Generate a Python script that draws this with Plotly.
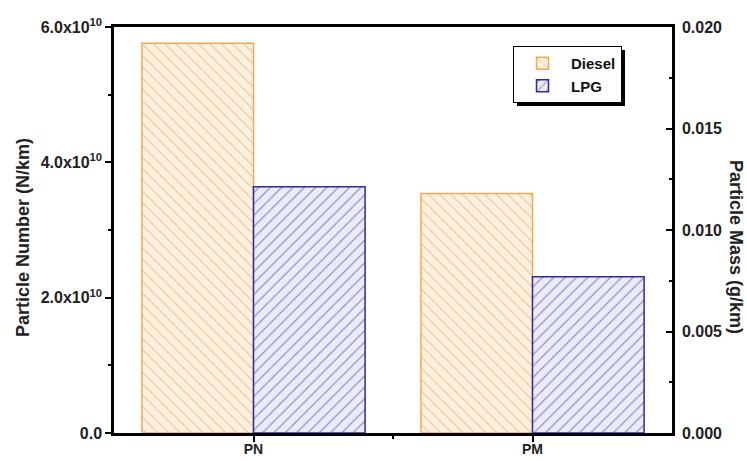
import plotly.graph_objects as go

# Emission data per fuel: particle number (left axis) and particle mass (right axis)
categories = ["PN", "PM"]
category_pos = [1, 2]
diesel_pn = 5.76e10   # N/km
lpg_pn = 3.64e10      # N/km
diesel_pm = 0.0118    # g/km
lpg_pm = 0.0077       # g/km

pn_tickvals = [0, 2e10, 4e10, 6e10]
pn_ticktext = ["0.0", "2.0x10<sup>10</sup>", "4.0x10<sup>10</sup>", "6.0x10<sup>10</sup>"]
pm_tickvals = [0, 0.005, 0.010, 0.015, 0.020]
pm_ticktext = ["0.000", "0.005", "0.010", "0.015", "0.020"]

FONT = "Liberation Sans"
diesel_style = dict(
    color="#fdf1de",
    line=dict(color="#f0aa55", width=1.5),
    pattern=dict(shape="\\", fgcolor="#c9955a", bgcolor="#fdf1de", size=8, solidity=0.14),
)
lpg_style = dict(
    color="#ebebf9",
    line=dict(color="#2c2ca0", width=1.5),
    pattern=dict(shape="/", fgcolor="#3a3a96", bgcolor="#ebebf9", size=8, solidity=0.16),
)

fig = go.Figure()
# Particle number on the primary y axis
fig.add_trace(go.Bar(x=[category_pos[0]], y=[diesel_pn], name="Diesel", legendgroup="d",
                     width=0.4, offset=-0.4, marker=diesel_style))
fig.add_trace(go.Bar(x=[category_pos[0]], y=[lpg_pn], name="LPG", legendgroup="l",
                     width=0.4, offset=0, marker=lpg_style))
# Particle mass on the secondary y axis
fig.add_trace(go.Bar(x=[category_pos[1]], y=[diesel_pm], name="Diesel", legendgroup="d",
                     showlegend=False, width=0.4, offset=-0.4, marker=diesel_style, yaxis="y2"))
fig.add_trace(go.Bar(x=[category_pos[1]], y=[lpg_pm], name="LPG", legendgroup="l",
                     showlegend=False, width=0.4, offset=0, marker=lpg_style, yaxis="y2"))

tick_font = dict(family=FONT, size=16, color="#222222", weight="bold")
title_font = dict(family=FONT, size=18, color="#222222", weight="bold")

W, H = 747, 461
L, R, T, B = 114, 75, 27, 28
pw, ph = W - L - R, H - T - B


def px_x(x):
    return (x - L) / pw


def px_y(y):
    return (H - B - y) / ph


# legend box placement in pixels, with a drop shadow drawn behind it
LEG_X, LEG_Y, LEG_W, LEG_H = 513, 46, 108, 56
SHADOW = 4

fig.update_layout(
    width=W, height=H,
    margin=dict(l=L, r=R, t=T, b=B),
    paper_bgcolor="white", plot_bgcolor="white",
    barmode="overlay",
    showlegend=True,
    legend=dict(
        x=px_x(LEG_X), y=px_y(LEG_Y), xanchor="left", yanchor="top",
        bgcolor="white", bordercolor="black", borderwidth=1,
        font=dict(family=FONT, size=15, color="#111111", weight="bold"),
        tracegroupgap=0, itemwidth=47,
    ),
    shapes=[
        dict(type="rect", xref="paper", yref="paper", layer="above",
             x0=px_x(LEG_X + SHADOW), x1=px_x(LEG_X + LEG_W + SHADOW),
             y0=px_y(LEG_Y + SHADOW), y1=px_y(LEG_Y + LEG_H + SHADOW),
             fillcolor="black", line=dict(width=0)),
    ],
    xaxis=dict(
        range=[0.5, 2.5], tickvals=category_pos, ticktext=categories,
        showline=True, linecolor="black", linewidth=2.5, mirror=True,
        ticks="outside", ticklen=6, tickwidth=2, tickcolor="black",
        minor=dict(tickvals=[1.5], ticks="outside", ticklen=3, tickwidth=2, tickcolor="black"),
        showgrid=False, zeroline=False, tickfont=dict(tick_font, size=14),
        ticklabelstandoff=-5, automargin=False,
    ),
    yaxis=dict(
        range=[0, 6e10], tickvals=pn_tickvals, ticktext=pn_ticktext,
        showline=True, linecolor="black", linewidth=2.5,
        ticks="outside", ticklen=6, tickwidth=2, tickcolor="black",
        minor=dict(tickvals=[1e10, 3e10, 5e10], ticks="outside", ticklen=3, tickwidth=2,
                   tickcolor="black"),
        showgrid=False, zeroline=False, tickfont=tick_font, ticklabelstandoff=0,
        automargin=False,
    ),
    yaxis2=dict(
        range=[0, 0.02], tickvals=pm_tickvals, ticktext=pm_ticktext,
        overlaying="y", side="right", anchor="x",
        showline=True, linecolor="black", linewidth=2.5,
        ticks="inside", ticklen=6, tickwidth=2, tickcolor="black",
        minor=dict(tickvals=[0.0025, 0.0075, 0.0125, 0.0175], ticks="inside", ticklen=3,
                   tickwidth=2, tickcolor="black"),
        showgrid=False, zeroline=False, tickfont=tick_font, ticklabelstandoff=4,
        automargin=False,
    ),
    annotations=[
        dict(text="Particle Number (N/km)", textangle=-90, xref="paper", yref="paper",
             x=px_x(23), y=px_y(238), xanchor="center", yanchor="middle",
             showarrow=False, font=title_font),
        dict(text="Particle Mass (g/km)", textangle=90, xref="paper", yref="paper",
             x=px_x(736), y=px_y(247), xanchor="center", yanchor="middle",
             showarrow=False, font=title_font),
    ],
)

fig.write_html("out.html")
